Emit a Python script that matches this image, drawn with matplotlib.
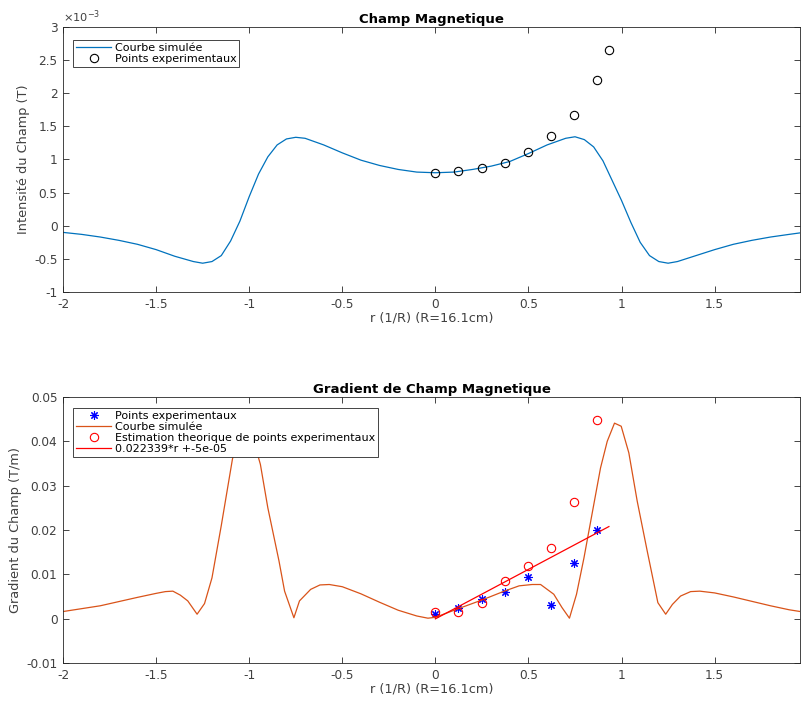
import matplotlib
matplotlib.use('Agg')
import matplotlib.pyplot as plt
from matplotlib.ticker import FuncFormatter

# ---- data ----
# simulated field B(r), in units of 1e-3 T
r_sim = [-2.0, -1.9, -1.8, -1.7, -1.6, -1.5, -1.4, -1.3, -1.25, -1.2, -1.15,
         -1.1, -1.05, -1.0, -0.95, -0.9, -0.85, -0.8, -0.75, -0.7, -0.6, -0.5,
         -0.4, -0.3, -0.2, -0.1, 0.0, 0.1, 0.2, 0.3, 0.4, 0.5, 0.6, 0.7, 0.75,
         0.8, 0.85, 0.9, 0.95, 1.0, 1.05, 1.1, 1.15, 1.2, 1.25, 1.3, 1.4, 1.5,
         1.6, 1.7, 1.8, 1.9, 1.96]
b_sim_mT = [-0.10, -0.13, -0.17, -0.22, -0.28, -0.36, -0.46, -0.54, -0.565,
            -0.54, -0.45, -0.23, 0.07, 0.44, 0.78, 1.04, 1.22, 1.31, 1.335,
            1.32, 1.22, 1.10, 0.99, 0.91, 0.85, 0.81, 0.80, 0.81, 0.85, 0.90,
            0.97, 1.09, 1.22, 1.32, 1.343, 1.30, 1.19, 0.98, 0.68, 0.38, 0.05,
            -0.25, -0.45, -0.54, -0.565, -0.54, -0.45, -0.36, -0.28, -0.22,
            -0.17, -0.13, -0.107]

# measured points (r in units of R = 16.1 cm)
r_exp = [0.0, 0.124, 0.248, 0.373, 0.497, 0.621, 0.745, 0.870, 0.932]
b_exp_mT = [0.80, 0.831, 0.866, 0.942, 1.107, 1.354, 1.67, 2.20, 2.654]

# simulated gradient dB/dr (T/m)
r_grad = [-2.0, -1.8, -1.6, -1.5, -1.45, -1.41, -1.37, -1.33, -1.28, -1.24,
          -1.20, -1.15, -1.09, -1.04, -1.00, -0.94, -0.90, -0.84, -0.81,
          -0.76, -0.73, -0.67, -0.62, -0.57, -0.5, -0.4, -0.3, -0.2, -0.1,
          -0.04, 0.0, 0.12, 0.25, 0.37, 0.45, 0.52, 0.565, 0.636, 0.68, 0.72,
          0.758, 0.798, 0.851, 0.887, 0.923, 0.962, 0.998, 1.039, 1.084,
          1.138, 1.195, 1.237, 1.273, 1.317, 1.371, 1.42, 1.5, 1.6, 1.7, 1.8,
          1.9, 1.96]
g_sim = [0.0016, 0.0029, 0.0048, 0.0057, 0.0061, 0.0062, 0.0053, 0.0040,
         0.0010, 0.0034, 0.0092, 0.021, 0.036, 0.0441, 0.0436, 0.0348, 0.025,
         0.013, 0.0062, 0.0002, 0.0040, 0.0066, 0.0076, 0.0077, 0.0072,
         0.0056, 0.0037, 0.0019, 0.0006, 0.0001, 0.0003, 0.0022, 0.0042,
         0.0062, 0.0074, 0.0077, 0.0077, 0.0055, 0.0025, 0.0001, 0.0055,
         0.0137, 0.0258, 0.034, 0.040, 0.0441, 0.0434, 0.0374, 0.0265, 0.0152,
         0.0036, 0.0010, 0.0032, 0.0051, 0.0061, 0.0062, 0.0058, 0.0049,
         0.0039, 0.0029, 0.0020, 0.0016]

g_exp = [0.0010, 0.0025, 0.0044, 0.0061, 0.0095, 0.0030, 0.0125, 0.0200]
g_theo = [0.0015, 0.0016, 0.0036, 0.0084, 0.0119, 0.0159, 0.0264, 0.0449]

fit_coef = [0.022339, -5e-05]

dark = '#262626'
tick_col = '#404040'
tick_fs = 8.7
label_fs = 9.3
title_fs = 9.5
leg_fs = 8


def style_axes(ax):
    ax.tick_params(direction='in', top=True, right=True, length=4,
                   width=0.6, colors=dark, labelcolor=tick_col,
                   labelsize=tick_fs, pad=4)
    for sp in ax.spines.values():
        sp.set_linewidth(0.6)
        sp.set_color(dark)
    ax.set_xlim(-2, 1.96)
    ax.set_xticks([-2, -1.5, -1, -0.5, 0, 0.5, 1, 1.5])
    ax.xaxis.set_major_formatter(FuncFormatter(lambda v, p: '%g' % v))
    ax.set_xlabel('r (1/R) (R=16.1cm)', fontsize=label_fs, color=tick_col, labelpad=1)


def add_legend(ax, y_top):
    leg = ax.legend(loc='upper left', bbox_to_anchor=(0.0136, y_top),
                    borderaxespad=0, fontsize=leg_fs, fancybox=False,
                    framealpha=1, edgecolor=dark, handlelength=3.2,
                    handletextpad=0.3, borderpad=0.25, labelspacing=0.1)
    leg.get_frame().set_linewidth(0.6)


fig = plt.figure(figsize=(8.04, 7.02), dpi=100)

# ---- top: field ----
ax1 = fig.add_axes([0.0784, 0.584, 0.917, 0.3776])
b_sim = [v * 1e-3 for v in b_sim_mT]
b_exp = [v * 1e-3 for v in b_exp_mT]
ax1.plot(r_sim, b_sim, color='#0072BD', lw=0.9, label='Courbe simulée')
ax1.plot(r_exp, b_exp, 'o', mfc='none', mec='black', ms=6, mew=0.8,
         label='Points experimentaux')
style_axes(ax1)
ax1.set_ylim(-1e-3, 3e-3)
ax1.set_yticks([i * 0.5e-3 for i in range(-2, 7)])
ax1.yaxis.set_major_formatter(FuncFormatter(lambda v, p: '%g' % round(v * 1e3, 3)))
ax1.text(0.0, 1.008, r'$\times10^{-3}$', transform=ax1.transAxes,
         fontsize=tick_fs - 0.5, color=tick_col, va='bottom', ha='left')
ax1.set_ylabel('Intensité du Champ (T)', fontsize=label_fs, color=tick_col, labelpad=3)
ax1.set_title('Champ Magnetique', fontsize=title_fs, fontweight='bold', pad=3)
add_legend(ax1, 0.951)

# ---- bottom: gradient ----
ax2 = fig.add_axes([0.0784, 0.0556, 0.917, 0.3789])
ax2.plot(r_exp[:8], g_exp, linestyle='none', marker=(8, 2, 0), color='blue',
         ms=6, mew=0.8, label='Points experimentaux')
ax2.plot(r_grad, g_sim, color='#D95319', lw=0.9, label='Courbe simulée')
ax2.plot(r_exp[:8], g_theo, 'o', mfc='none', mec='red', ms=6, mew=0.8,
         label='Estimation theorique de points experimentaux')
fit_y = [fit_coef[0] * r + fit_coef[1] for r in r_exp]
ax2.plot(r_exp, fit_y, color='red', lw=0.9,
         label='%g*r +%g' % (fit_coef[0], fit_coef[1]))
style_axes(ax2)
ax2.set_ylim(-0.01, 0.05)
ax2.set_yticks([-0.01, 0, 0.01, 0.02, 0.03, 0.04, 0.05])
ax2.yaxis.set_major_formatter(FuncFormatter(lambda v, p: '%g' % round(v, 4)))
ax2.set_ylabel('Gradient du Champ (T/m)', fontsize=label_fs, color=tick_col, labelpad=3)
ax2.set_title('Gradient de Champ Magnetique', fontsize=title_fs, fontweight='bold', pad=3)
add_legend(ax2, 0.959)

fig.savefig('out.png', dpi=100)
